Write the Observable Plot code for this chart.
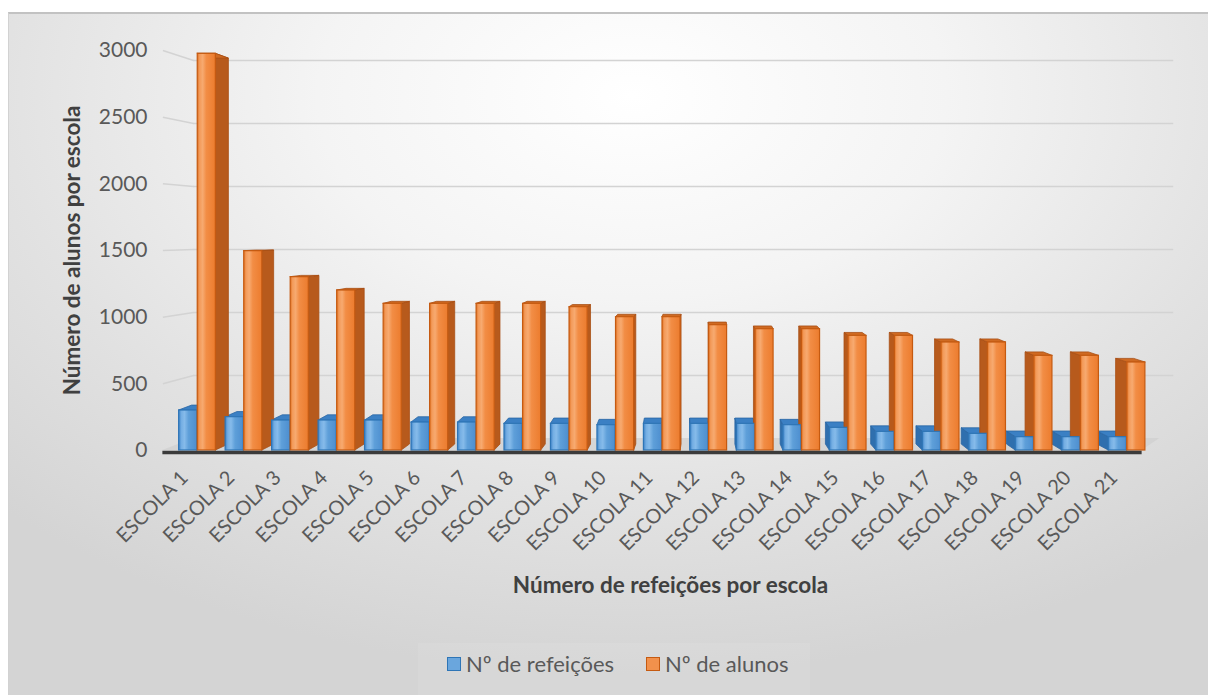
<!DOCTYPE html>
<html>
<head>
<meta charset="utf-8">
<script src="https://cdn.jsdelivr.net/npm/d3@7"></script>
<script src="https://cdn.jsdelivr.net/npm/@observablehq/plot@0.6"></script>
<style>
  body { margin: 0; width: 1208px; height: 695px; position: relative; overflow: hidden; background: #ffffff; font-family: Lato, "Open Sans", sans-serif; }
  #bg { position: absolute; left: 8px; top: 12px; right: 0; bottom: 0; border-top: 2px solid #c2c2c2; border-left: 1px solid #d2d2d2;
        background: radial-gradient(ellipse 75% 85% at 52% 12%, #ffffff 0%, #f4f4f4 35%, #e2e2e2 70%, #d4d4d4 100%); }
  #chart { position: absolute; left: 0; top: 0; }
  #legendbox { position: absolute; left: 418px; top: 643px; width: 392px; height: 52px; background: rgba(255,255,255,0.08); }
  .item { position: absolute; top: 650px; display: flex; align-items: center; font-size: 22px; color: #595959; white-space: nowrap; }
  .sw { width: 12px; height: 12px; margin-right: 5px; border: 1.5px solid; }
</style>
</head>
<body>
<div id="bg"></div>
<div id="chart"></div>
<div id="legendbox"></div>
<div class="item" style="left:447px"><span class="sw" style="background:#6aa6dd;border-color:#2e75b6"></span>Nº de refeições</div>
<div class="item" style="left:646px"><span class="sw" style="background:#f2914c;border-color:#c55a11"></span>Nº de alunos</div>
<script>
// Categories and series
const escolas = ["ESCOLA 1", "ESCOLA 2", "ESCOLA 3", "ESCOLA 4", "ESCOLA 5", "ESCOLA 6", "ESCOLA 7",
  "ESCOLA 8", "ESCOLA 9", "ESCOLA 10", "ESCOLA 11", "ESCOLA 12", "ESCOLA 13", "ESCOLA 14",
  "ESCOLA 15", "ESCOLA 16", "ESCOLA 17", "ESCOLA 18", "ESCOLA 19", "ESCOLA 20", "ESCOLA 21"];
const refeicoes = [300, 250, 225, 225, 225, 210, 210, 200, 200, 190, 200, 200, 200, 190, 170, 140, 140, 125, 100, 100, 100];
const alunos = [2975, 1495, 1300, 1200, 1100, 1100, 1100, 1100, 1075, 1000, 1000, 940, 910, 910, 860, 860, 810, 810, 710, 710, 660];
const yTicks = [0, 500, 1000, 1500, 2000, 2500, 3000];

// Pseudo-3D helpers: the back of each bar is shifted toward the vanishing point
const depthX = i => 0.28 - 0.026 * i;      // horizontal shift of the back face (x units)
const backY = v => 45 + 0.9728 * v;          // back face height in front-scale units
const wallY = v => 90 + 0.945 * v;           // back wall gridline height

function bars(values, a, b, key) {
  return values.map((v, i) => ({ i, v, key: key + i, fx1: i + a, fx2: i + b, d: depthX(i) }));
}
const blue = bars(refeicoes, -0.40, -0.01, "r");
const orange = bars(alunos, 0, 0.39, "a");

const sides = data => data.flatMap(b => {
  const xf = b.d > 0 ? b.fx2 : b.fx1;
  return [{ z: b.key, x: xf, y1: 0, y2: b.v }, { z: b.key, x: xf + b.d, y1: 45, y2: backY(b.v) }];
});
const tops = data => data.flatMap(b => [
  { z: b.key, y: b.v, x1: b.fx1, x2: b.fx2 },
  { z: b.key, y: backY(b.v), x1: b.fx1 + b.d, x2: b.fx2 + b.d }
]);

const defs = () => d3.create("svg:defs").html(`
  <linearGradient id="gOrange" x1="0" x2="1" y1="0" y2="0">
    <stop offset="0" stop-color="#e0701f"/><stop offset="0.12" stop-color="#f39a59"/>
    <stop offset="0.3" stop-color="#f7aa70"/><stop offset="0.5" stop-color="#f28d45"/>
    <stop offset="1" stop-color="#ec7c2e"/></linearGradient>
  <linearGradient id="gBlue" x1="0" x2="1" y1="0" y2="0">
    <stop offset="0" stop-color="#3f84c8"/><stop offset="0.15" stop-color="#74aee3"/>
    <stop offset="0.32" stop-color="#86bbea"/><stop offset="0.55" stop-color="#5e9fd9"/>
    <stop offset="1" stop-color="#4d8ecf"/></linearGradient>`).node();

const chart = Plot.plot({
  width: 1208,
  height: 640,
  marginLeft: 174,
  marginRight: 58,
  marginTop: 50,
  marginBottom: 190,
  style: { background: "transparent", color: "#595959", fontFamily: "Lato, 'Open Sans', sans-serif" },
  x: { domain: [-0.5, 20.5], axis: null },
  y: { domain: [0, 3000], axis: null },
  marks: [
    defs,
    // floor
    Plot.areaX([{ y: 0, x1: -0.75, x2: 20.32 }, { y: 90, x1: -0.09, x2: 20.7 }],
      { y: "y", x1: "x1", x2: "x2", fill: "#cfcfcf", fillOpacity: 0.7 }),
    // back wall gridlines and left wall segments
    Plot.ruleY(yTicks.slice(1), { y: v => wallY(v), x1: -0.09, x2: 21.0, stroke: "#d3d3d3", strokeWidth: 1.5 }),
    Plot.link(yTicks.slice(1), { x1: -0.75, y1: v => v, x2: -0.09, y2: v => wallY(v), stroke: "#d3d3d3", strokeWidth: 1.5 }),
    Plot.axisY(yTicks, { tickSize: 0, tickPadding: 27, fontSize: 21, label: null, tickFormat: d => String(d) }),
    // side and top faces
    Plot.areaY(sides(blue), { x: "x", y1: "y1", y2: "y2", z: "z", fill: "#2f6fae", stroke: "#2a66a3", strokeWidth: 0.8 }),
    Plot.areaX(tops(blue), { y: "y", x1: "x1", x2: "x2", z: "z", fill: "#3b80c4", stroke: "#2a66a3", strokeWidth: 0.8 }),
    Plot.areaY(sides(orange), { x: "x", y1: "y1", y2: "y2", z: "z", fill: "#b75a1c", stroke: "#a84f15", strokeWidth: 0.8 }),
    Plot.areaX(tops(orange), { y: "y", x1: "x1", x2: "x2", z: "z", fill: "#cf6a22", stroke: "#a84f15", strokeWidth: 0.8 }),
    // front faces
    Plot.rect(blue, { x1: "fx1", x2: "fx2", y1: 0, y2: "v", fill: "url(#gBlue)", stroke: "#2e75b6", strokeWidth: 1.2 }),
    Plot.rect(orange, { x1: "fx1", x2: "fx2", y1: 0, y2: "v", fill: "url(#gOrange)", stroke: "#c55a11", strokeWidth: 1.2 }),
    // category axis line
    Plot.ruleY([0], { x1: -0.75, x2: 20.32, stroke: "#3b3b3b", strokeWidth: 3.5, dy: 2 }),
    // category labels
    Plot.text(escolas, { x: (d, i) => i, y: 0, text: d => d, rotate: -45, textAnchor: "end",
      dx: -13, dy: 24, fontSize: 20, fill: "#595959" }),
    // axis titles
    Plot.text(["Número de alunos por escola"], { frameAnchor: "left", rotate: -90, dx: -102, textAnchor: "middle",
      fontSize: 22.5, fontWeight: "bold", fill: "#404040" }),
    Plot.text(["Número de refeições por escola"], { frameAnchor: "bottom", dx: 8, dy: 142,
      fontSize: 22.5, fontWeight: "bold", fill: "#404040" })
  ]
});
document.getElementById("chart").append(chart);
</script>
</body>
</html>
